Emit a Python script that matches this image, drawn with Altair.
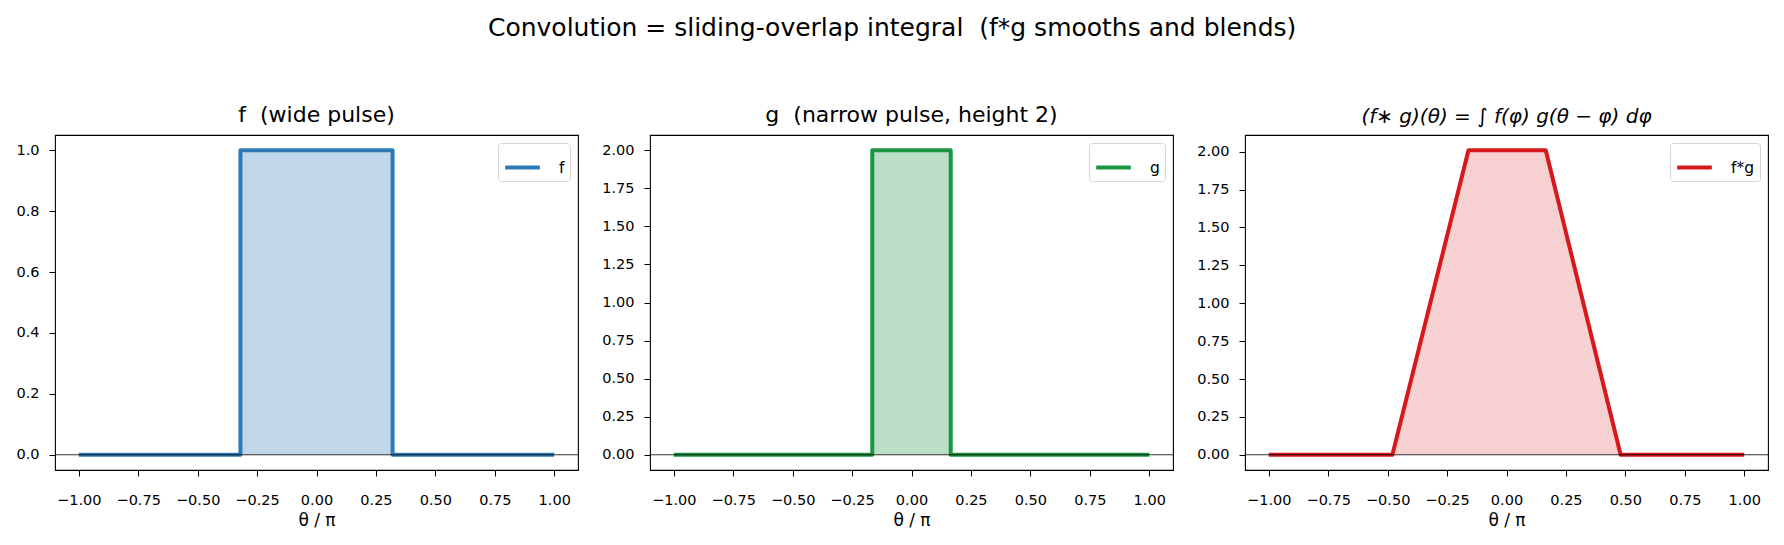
import altair as alt
import pandas as pd

# ---- data ----
theta_f = [-1.0, -0.32, -0.32, 0.32, 0.32, 1.0]
f_vals = [0.0, 0.0, 1.0, 1.0, 0.0, 0.0]

theta_g = [-1.0, -0.165, -0.165, 0.165, 0.165, 1.0]
g_vals = [0.0, 0.0, 2.0, 2.0, 0.0, 0.0]

theta_c = [-1.0, -0.48, -0.16, 0.165, 0.48, 1.0]
c_vals = [0.0, 0.0, 2.01, 2.01, 0.0, 0.0]

x_ticks = [-1.0, -0.75, -0.5, -0.25, 0.0, 0.25, 0.5, 0.75, 1.0]
y_ticks_f = [0.0, 0.2, 0.4, 0.6, 0.8, 1.0]
y_ticks_g = [0.0, 0.25, 0.5, 0.75, 1.0, 1.25, 1.5, 1.75, 2.0]

FONT = "DejaVu Sans"
W, H = 523, 335
SP = " \u00a0"  # double space that survives SVG whitespace collapsing


def panel(thetas, vals, color, label, title, ydom, yticks, yfmt,
          fill_opacity=0.3, title_style="normal", title_size=22):
    df = pd.DataFrame({"theta": thetas, "v": vals,
                       "i": list(range(len(thetas))), "s": [label] * len(thetas)})
    x = alt.X("theta:Q", scale=alt.Scale(domain=[-1.1, 1.1], nice=False, zero=False),
              axis=alt.Axis(values=x_ticks, format=".2f", title="θ / π"))
    y = alt.Y("v:Q", stack=None, scale=alt.Scale(domain=ydom, nice=False, zero=False),
              axis=alt.Axis(values=yticks, format=yfmt, title=None))
    base = alt.Chart(df)
    area = base.mark_area(color=color, opacity=fill_opacity, interpolate="linear").encode(x=x, y=y)
    line = base.mark_line(strokeWidth=4, strokeJoin="round").encode(
        x=x, y=y, order="i:Q",
        color=alt.Color("s:N", scale=alt.Scale(domain=[label], range=[color]),
                        legend=alt.Legend(title=None, orient="top-right")))
    rule = alt.Chart(pd.DataFrame({"z": [0.0]})).mark_rule(color="black", strokeWidth=0.8).encode(
        y=alt.Y("z:Q"))
    return alt.layer(area, line, rule).properties(
        width=W, height=H,
        title=alt.TitleParams(title, fontSize=title_size, font=FONT, fontWeight="normal",
                              fontStyle=title_style, offset=8, color="black"))


p1 = panel(theta_f, f_vals, "#2c7bb6", "f", "f" + SP + "(wide pulse)", [-0.05, 1.05], y_ticks_f, ".1f")
p2 = panel(theta_g, g_vals, "#1a9641", "g", "g" + SP + "(narrow pulse, height 2)", [-0.1, 2.1], y_ticks_g, ".2f")
p3 = panel(theta_c, c_vals, "#d7191c", "f*g", "(f∗ g)(θ) = ∫ f(φ) g(θ − φ) dφ",
           [-0.1005, 2.1105], y_ticks_g, ".2f", fill_opacity=0.2, title_style="italic",
           title_size=20)

chart = alt.hconcat(p1, p2, p3, spacing=72, bounds="flush").resolve_scale(
    color="independent").properties(
    title=alt.TitleParams("Convolution = sliding-overlap integral" + SP + "(f*g smooths and blends)",
                          fontSize=25, font=FONT, fontWeight="normal", color="black",
                          anchor="middle", offset=62),
    padding={"left": 15, "top": 16, "right": 14, "bottom": 5},
).configure(font=FONT).configure_view(stroke="black", strokeWidth=1.1).configure_axis(
    domain=False, grid=False, ticks=True, tickColor="black", tickSize=6, tickWidth=1,
    labelFont=FONT, labelFontSize=14.5, labelColor="black",
    titleFont=FONT, titleFontSize=17, titleFontWeight="normal", titleColor="black",
    titlePadding=6,
).configure_axisX(labelPadding=17).configure_axisY(labelPadding=10).configure_legend(
    labelFont=FONT, labelFontSize=15.5, labelColor="black", symbolType="stroke",
    symbolStrokeWidth=4, symbolSize=1200, fillColor="white", strokeColor="#d6d6d6",
    padding=5, cornerRadius=3, offset=8, labelOffset=17,
)

chart.save("out.html", embed_options={"renderer": "svg", "actions": False})
